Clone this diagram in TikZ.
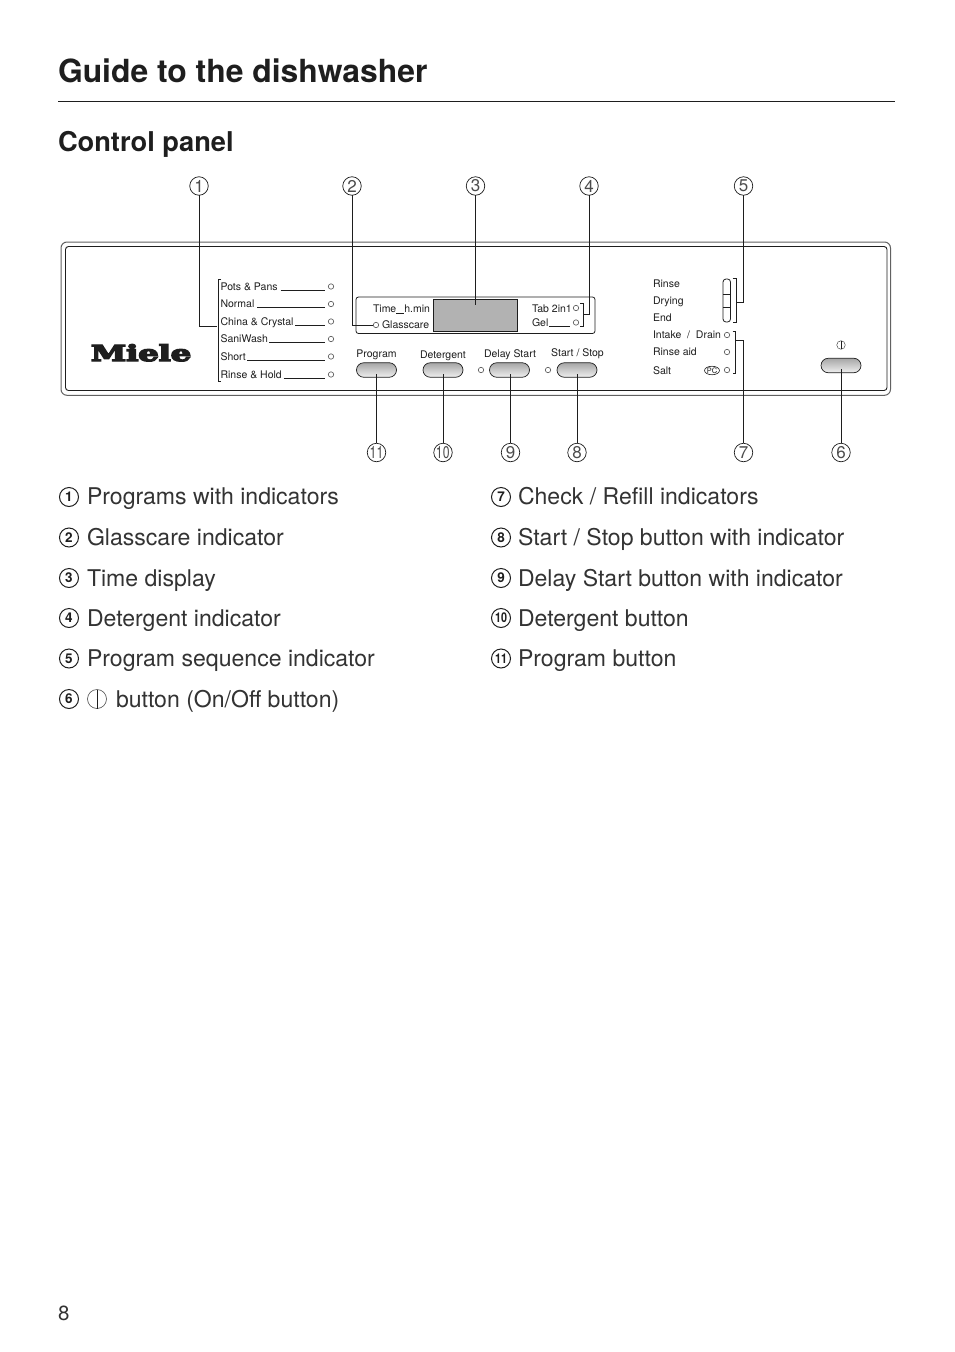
\documentclass[tikz,border=0pt]{standalone}
\usepackage{fontspec}
\usetikzlibrary{calc,shapes.misc,shapes.geometric}
\setmainfont{TeX Gyre Heros}
\newfontfamily\logofont[FakeBold=6]{DejaVu Serif}
\definecolor{ink}{HTML}{1E1E1E}
\tikzset{
  x=1pt,y=-1pt,
  every node/.style={inner sep=0pt,outer sep=0pt,text=ink},
  conn/.style={draw=ink,line width=0.9pt},
  call/.style={circle,draw=ink,line width=0.7pt,minimum size=18.5pt,text=black!70,font=\fontsize{17}{17}\selectfont},
  leg/.style={circle,draw=ink,line width=1pt,minimum size=19pt,font=\bfseries\fontsize{13.5}{14}\selectfont},
  legt/.style={anchor=base west,text=black!80,font=\fontsize{23.05}{28}\selectfont},
  small/.style={font=\fontsize{10.5}{12}\selectfont},
  lab/.style={small,anchor=base west},
  clab/.style={small,anchor=base},
  led/.style={circle,draw=black!60,line width=0.7pt,minimum size=5.4pt},
  pill/.style={rounded rectangle,draw=ink,line width=0.7pt,minimum width=40pt,minimum height=14.5pt,top color=black!35,bottom color=black!6},
  fine/.style={draw=ink,line width=0.9pt},
  onoff/.style={circle,draw=black!70,line width=0.5pt},
}
\begin{document}
\begin{tikzpicture}
\useasboundingbox[fill=white] (0,0) rectangle (954,1352);
% headings
\node[anchor=base west,font=\bfseries\fontsize{31.85}{36}\selectfont] (title) at (58,82) {Guide to the dishwasher};
\coordinate (ruleL) at (58,101.5); \coordinate (ruleR) at (895,101.5);
\draw[draw=ink,line width=0.8pt] (ruleL) -- (ruleR);
\node[anchor=base west,font=\bfseries\fontsize{27.25}{32}\selectfont] (sub) at (58,151) {Control panel};
\node[anchor=base west,text=black!80,font=\fontsize{20.5}{24}\selectfont] (page) at (58,1320) {8};
% panel
\draw[draw=ink!70,line width=1pt,rounded corners=6pt] (61,242) rectangle (890.5,395.3);
\draw[draw=ink,line width=0.9pt,rounded corners=3pt] (65.5,246.5) rectangle (887,390.5);
\node[font=\logofont\bfseries\fontsize{24}{24}\selectfont,anchor=base] (logo) at (141,361) {\scalebox{1.33}[0.92]{Miele}};
% callouts
\node[call] (c1) at (199,186) {1};
\node[call] (c2) at (352,186) {2};
\node[call] (c3) at (475.5,186) {3};
\node[call] (c4) at (589,186) {4};
\node[call] (c5) at (743.5,186) {5};
\node[call] (c6) at (841,452.5) {6};
\node[call] (c7) at (743.5,452.5) {7};
\node[call] (c8) at (577,452.5) {8};
\node[call] (c9) at (510.5,452.5) {9};
\node[call] (c10) at (443,452.5) {\kern-0.5pt\scalebox{0.72}[1]{10}};
\node[call] (c11) at (376.5,452.5) {\scalebox{0.72}[1]{11}};
% programs
\coordinate (pT) at (218,279.5); \coordinate (pM) at (217,326); \coordinate (pB) at (218,381.5);
\draw[fine] ([xshift=3pt]pT) -- (pT) -- (pB) -- ([xshift=3pt]pB);
\draw[conn] (c1) |- (pM);
\foreach \n/\t/\y/\s in {1/Pots \& Pans/290/280.5,2/Normal/307.5/257,3/China \& Crystal/325/295,4/SaniWash/342.5/269,5/Short/360/247,6/Rinse \& Hold/378/283.5}{
  \node[lab] (pl\n) at (220.5,\y) {\t};
  \node[led] (pled\n) at (331,\y-3.5) {};
  \coordinate (ps\n) at (\s,\y);
  \coordinate (pe\n) at (325,\y);
  \draw[draw=ink,line width=0.8pt] (ps\n) -- (pe\n);
}
% display block
\draw[draw=ink,line width=0.8pt,rounded corners=2.5pt] (356,297) rectangle (595,333.5);
\node[draw=ink,line width=0.8pt,fill=black!30,minimum width=84pt,minimum height=32pt] (disp) at (475.5,315) {};
\node[lab] (time) at (373,312.5) {Time\rule[-1pt]{8pt}{0.7pt}h.min};
\node[lab] (glass) at (382,328.5) {Glasscare};
\node[led] (gled) at (376,325) {};
\node[lab] (tab) at (532,312.5) {Tab 2in1};
\node[lab] (gel) at (532,326) {Gel};
\node[led] (tled) at (576,308) {};
\node[led] (geled) at (576,322.5) {};
\coordinate (gelA) at (549,326); \coordinate (gelB) at (570,326);
\draw[draw=ink,line width=0.8pt] (gelA) -- (gelB);
\coordinate (dT) at (583,303); \coordinate (dB) at (583,326); \coordinate (dM) at (583,314.5);
\draw[fine] ([xshift=-3pt]dT) -- (dT) -- (dB) -- ([xshift=-3pt]dB);
\draw[conn] (c2) |- (gled);
\draw[conn] (c3) -- ([yshift=-6pt]disp.north);
\draw[conn] (c4) |- (dM);
% buttons
\node[pill] (bp) at (376.5,370) {};
\node[pill] (bd) at (443,370) {};
\node[pill] (bs) at (509.5,370) {};
\node[pill] (bg) at (577,370) {};
\node[pill] (bo) at (841,365.5) {};
\node[clab] (tp) at (376.5,357) {Program};
\node[clab] (td) at (443,358) {Detergent};
\node[clab] (ts) at (510,357) {Delay Start};
\node[clab] (tg) at (577.5,356) {Start / Stop};
\node[led] (ls) at (481,370) {};
\node[led] (lg) at (548,370) {};
\node[onoff,minimum size=8.5pt] (oo) at (841,345) {};
\draw[draw=ink,line width=0.5pt] (oo.north) -- (oo.south);
\draw[conn] (c11) -- ([yshift=3pt]bp.south);
\draw[conn] (c10) -- ([yshift=3pt]bd.south);
\draw[conn] (c9) -- ([yshift=3pt,xshift=1pt]bs.south);
\draw[conn] (c8) -- ([yshift=3pt]bg.south);
\draw[conn] (c6) -- ([yshift=4pt]bo.south);
% sequence
\draw[draw=ink,line width=0.8pt,rounded corners=3pt] (723,279) rectangle (730.5,322);
\coordinate (sa) at (723,294); \coordinate (sb) at (730.5,294); \coordinate (sc) at (723,307.5); \coordinate (sd) at (730.5,307.5);
\draw[draw=ink,line width=0.8pt] (sa) -- (sb) (sc) -- (sd);
\coordinate (sT) at (736,278.5); \coordinate (sB) at (736,322); \coordinate (sM) at (736,302);
\draw[fine] ([xshift=-3.5pt]sT) -- (sT) -- (sB) -- ([xshift=-3.5pt]sB);
\draw[conn] (c5) |- (sM);
\coordinate (kT) at (735.5,331); \coordinate (kB) at (735.5,373); \coordinate (kM) at (735.5,340.5);
\draw[fine] ([xshift=-3pt]kT) -- (kT) -- (kB) -- ([xshift=-3pt]kB);
\draw[conn] (c7) |- (kM);
\node[lab] (r1) at (653,287) {Rinse};
\node[lab] (r2) at (653,304) {Drying};
\node[lab] (r3) at (653,321) {End};
\node[lab] (r4) at (653,338.5) {Intake \;/\; Drain};
\node[lab] (r5) at (653,355) {Rinse aid};
\node[lab] (r6) at (653,374) {Salt};
\node[led] (k1) at (727,335) {};
\node[led] (k2) at (727,352) {};
\node[led] (k3) at (727,370) {};
\node[ellipse,draw=ink,line width=0.6pt,minimum width=15pt,minimum height=8.5pt,font=\fontsize{7.5}{8}\selectfont] (pc) at (712,370.5) {PC};
% legend left
\node[leg] (l1) at (69,497) {1}; \node[legt] (t1) at (87,504.5) {Programs with indicators};
\node[leg] (l2) at (69,537.5) {2}; \node[legt] (t2) at (87,545.5) {Glasscare indicator};
\node[leg] (l3) at (69,578) {3}; \node[legt] (t3) at (87,586) {Time display};
\node[leg] (l4) at (69,618) {4}; \node[legt] (t4) at (87,626.5) {Detergent indicator};
\node[leg] (l5) at (69,658.5) {5}; \node[legt] (t5) at (87,666.5) {Program sequence indicator};
\node[leg] (l6) at (69,699) {6};
\node[onoff,minimum size=19pt,line width=0.6pt] (s6) at (97,699) {};
\draw[draw=ink,line width=0.9pt] (s6.north) -- (s6.south);
\node[legt] (t6) at (116,707.5) {button (On/Off button)};
% legend right
\node[leg] (l7) at (501,497) {7}; \node[legt] (t7) at (518,504.5) {Check / Refill indicators};
\node[leg] (l8) at (501,537.5) {8}; \node[legt] (t8) at (518,545.5) {Start / Stop button with indicator};
\node[leg] (l9) at (501,578) {9}; \node[legt] (t9) at (518,586) {Delay Start button with indicator};
\node[leg] (l10) at (501,618) {\scalebox{0.8}[1]{10}}; \node[legt] (t10) at (518,626.5) {Detergent button};
\node[leg] (l11) at (501,658.5) {\scalebox{0.8}[1]{11}}; \node[legt] (t11) at (518,666.5) {Program button};
\end{tikzpicture}
\end{document}
